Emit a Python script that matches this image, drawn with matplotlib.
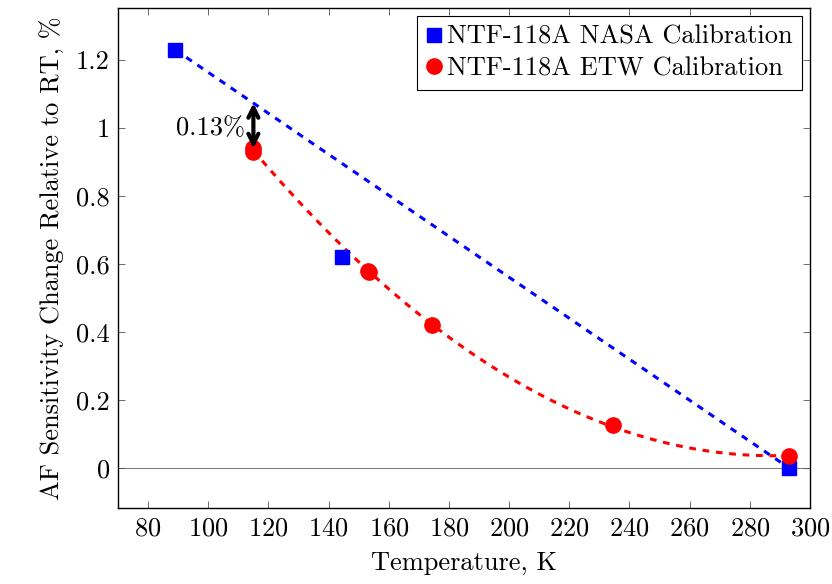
import numpy as np
import matplotlib
matplotlib.use("Agg")
import matplotlib.pyplot as plt
from matplotlib.ticker import FuncFormatter

plt.rcParams["font.family"] = "serif"
plt.rcParams["font.serif"] = ["cmr10", "DejaVu Serif"]
plt.rcParams["mathtext.fontset"] = "cm"
plt.rcParams["axes.formatter.use_mathtext"] = True

# NASA calibration (blue squares)
nasa_temp = [89, 144.5, 293]
nasa_change = [1.23, 0.62, 0.0]

# ETW calibration (red circles)
etw_temp = [115, 115, 153, 153.5, 174.5, 234.5, 293]
etw_change = [0.94, 0.93, 0.58, 0.575, 0.42, 0.125, 0.035]

x_ticks = [80, 100, 120, 140, 160, 180, 200, 220, 240, 260, 280, 300]
y_ticks = [0, 0.2, 0.4, 0.6, 0.8, 1.0, 1.2]

FS = 19

fig = plt.figure(figsize=(8.32, 5.84), dpi=100)
ax = fig.add_axes([118 / 832, 76 / 584, 692 / 832, 500 / 584])

ax.axhline(0, color="gray", linewidth=0.8, zorder=1)

# straight line between the NASA end points
ax.plot([nasa_temp[0], nasa_temp[-1]], [nasa_change[0], nasa_change[-1]],
        color="blue", linestyle=(0, (2.2, 2.2)), linewidth=2.2, zorder=2)

# quadratic trend through ETW points
coef = np.polyfit(etw_temp, etw_change, 2)
xs = np.linspace(min(etw_temp), max(etw_temp), 200)
ax.plot(xs, np.polyval(coef, xs), color="red", linestyle=(0, (2.2, 2.2)),
        linewidth=2.2, zorder=2)

ax.plot(nasa_temp, nasa_change, "s", color="blue", markersize=9.5,
        label="NTF-118A NASA Calibration", zorder=3)
ax.plot(etw_temp, etw_change, "o", color="red", markersize=11,
        label="NTF-118A ETW Calibration", zorder=3)

# gap annotation at 115 K
blue_at = np.interp(115, [nasa_temp[0], nasa_temp[-1]], [nasa_change[0], nasa_change[-1]])
ax.annotate("", xy=(115, blue_at), xytext=(115, etw_change[0]),
            arrowprops=dict(arrowstyle="<->", color="black", lw=3,
                            mutation_scale=18, shrinkA=0, shrinkB=0), zorder=4)
ax.text(112.3, 1.0, "0.13%", ha="right", va="center", fontsize=FS)

ax.set_xlim(70, 300)
ax.set_ylim(-0.118, 1.353)
ax.set_xticks(x_ticks)
ax.set_yticks(y_ticks)
ax.yaxis.set_major_formatter(FuncFormatter(lambda v, p: f"{v:g}"))
ax.tick_params(direction="in", top=True, right=True, length=5, width=0.6,
               color="#555555", labelsize=FS, pad=6)
for s in ax.spines.values():
    s.set_linewidth(1.0)

ax.set_xlabel("Temperature, K", fontsize=FS, labelpad=8)
ax.set_ylabel("AF Sensitivity Change Relative to RT, %", fontsize=FS, labelpad=8)

leg = ax.legend(loc="upper right", fontsize=FS, fancybox=False, edgecolor="black",
                framealpha=1, handlelength=0.6, handletextpad=0.2,
                borderpad=0.35, labelspacing=0.3, borderaxespad=0.3)
leg.get_frame().set_linewidth(0.8)

fig.savefig("out.png", dpi=100)
